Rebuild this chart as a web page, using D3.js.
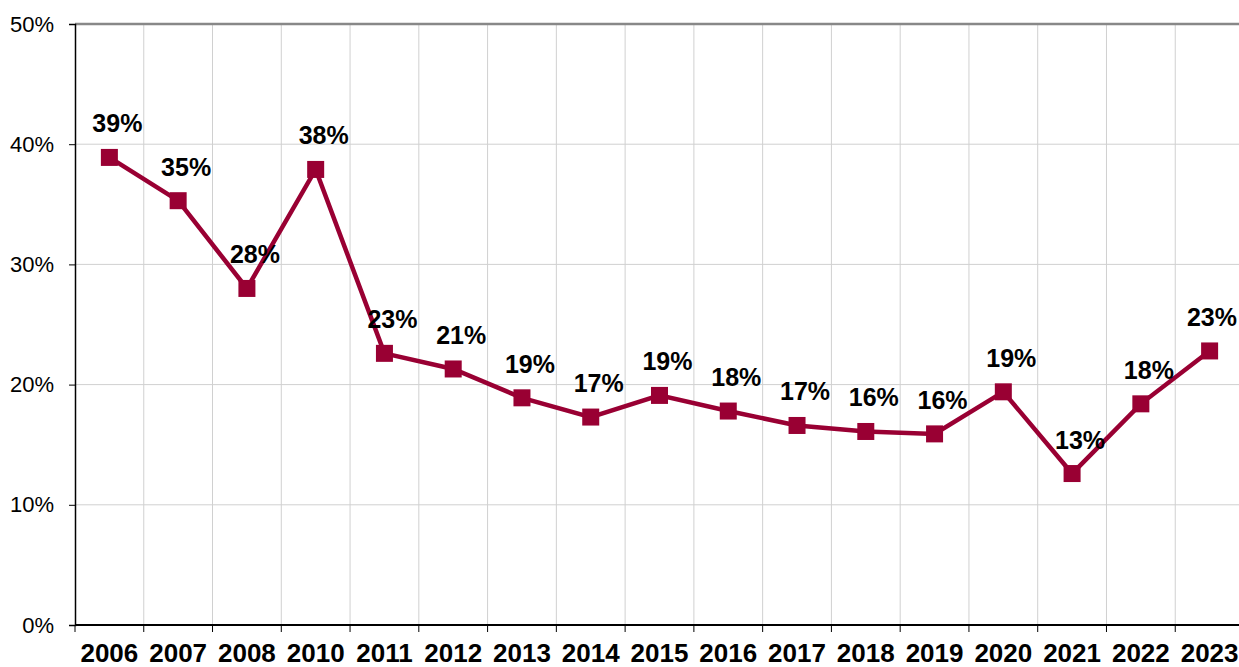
<!DOCTYPE html>
<html>
<head>
<meta charset="utf-8">
<script src="https://cdn.jsdelivr.net/npm/d3@7"></script>
<style>
  html, body { margin: 0; padding: 0; background: #fff; overflow: hidden; }
  svg { display: block; font-family: "Liberation Sans", Arial, sans-serif; }
</style>
</head>
<body>
<div id="chart"></div>
<script>
// Share per year (fraction); 2009 is absent in the source series.
const years  = ['2006','2007','2008','2010','2011','2012','2013','2014','2015',
                '2016','2017','2018','2019','2020','2021','2022','2023'];
const shares = [0.389, 0.353, 0.280, 0.379, 0.226, 0.213, 0.189, 0.173, 0.191,
                0.178, 0.166, 0.161, 0.159, 0.194, 0.126, 0.184, 0.228];
const yTicks = [0, 0.1, 0.2, 0.3, 0.4, 0.5];

const W = 1239, H = 667;
const margin = { top: 24, right: -5, bottom: 42, left: 75 };
const innerW = W - margin.left - margin.right;
const innerH = H - margin.top - margin.bottom;

const color = '#990033';
const grid  = '#d0d0d0';

const svg = d3.select('#chart').append('svg')
  .attr('width', W).attr('height', H);

const g = svg.append('g')
  .attr('transform', `translate(${margin.left},${margin.top})`);

const x = d3.scaleBand().domain(years).range([0, innerW]).padding(0);
const y = d3.scaleLinear().domain([0, 0.5]).range([innerH, 0]);

// gridlines: horizontal at ticks, vertical at category boundaries
g.append('g').selectAll('line')
  .data(yTicks.slice(1, -1))
  .join('line')
  .attr('x1', 0).attr('x2', innerW)
  .attr('y1', d => y(d)).attr('y2', d => y(d))
  .attr('stroke', grid).attr('stroke-width', 1);

g.append('g').selectAll('line')
  .data(years.slice(1))
  .join('line')
  .attr('x1', d => x(d)).attr('x2', d => x(d))
  .attr('y1', 0).attr('y2', innerH)
  .attr('stroke', grid).attr('stroke-width', 1);

// top border of the plot area
g.append('line')
  .attr('x1', 0).attr('x2', innerW)
  .attr('y1', y(0.5)).attr('y2', y(0.5))
  .attr('stroke', '#888').attr('stroke-width', 2.5);

// y axis
const yAxis = g.append('g')
  .call(d3.axisLeft(y).tickValues(yTicks).tickFormat(d3.format('.0%'))
    .tickSize(6).tickPadding(15));
yAxis.select('.domain').attr('stroke', '#000').attr('stroke-width', 1.5);
yAxis.selectAll('.tick line').attr('stroke', '#000');
yAxis.selectAll('text').attr('font-size', 22).attr('fill', '#000')
  .attr('font-family', '"Liberation Sans", Arial, sans-serif');

// x axis: ticks at category boundaries, labels centered in bands
const xa = g.append('g').attr('transform', `translate(0,${innerH})`);
xa.append('line')
  .attr('x1', 0).attr('x2', innerW)
  .attr('stroke', '#000').attr('stroke-width', 2);
xa.selectAll('line.tk')
  .data(years)
  .join('line').attr('class', 'tk')
  .attr('x1', d => x(d)).attr('x2', d => x(d))
  .attr('y1', 0).attr('y2', 7)
  .attr('stroke', '#000').attr('stroke-width', 1);
xa.selectAll('text')
  .data(years)
  .join('text')
  .attr('x', d => x(d) + x.bandwidth() / 2)
  .attr('y', 37)
  .attr('text-anchor', 'middle')
  .attr('font-size', 26).attr('font-weight', 'bold').attr('fill', '#000')
  .text(d => d);

// line + markers
const pts = years.map((yr, i) => ({ yr, v: shares[i] }));
const cx = d => x(d.yr) + x.bandwidth() / 2;

g.append('path')
  .datum(pts)
  .attr('fill', 'none')
  .attr('stroke', color)
  .attr('stroke-width', 4.5)
  .attr('stroke-linejoin', 'miter')
  .attr('d', d3.line().x(cx).y(d => y(d.v)));

const ms = 17;
g.append('g').selectAll('rect')
  .data(pts)
  .join('rect')
  .attr('x', d => cx(d) - ms / 2)
  .attr('y', d => y(d.v) - ms / 2)
  .attr('width', ms).attr('height', ms)
  .attr('fill', color);

// value labels above each marker; keep the last one inside the frame
const maxRight = W - margin.left - 2;
g.append('g').selectAll('text')
  .data(pts)
  .join('text')
  .attr('y', d => y(d.v) - 25)
  .attr('text-anchor', 'middle')
  .attr('font-size', 25).attr('font-weight', 'bold').attr('fill', '#000')
  .text(d => d3.format('.0%')(d.v))
  .attr('x', function(d) {
    const half = this.getComputedTextLength() / 2;
    return Math.min(cx(d) + 8, maxRight - half);
  });
</script>
</body>
</html>
